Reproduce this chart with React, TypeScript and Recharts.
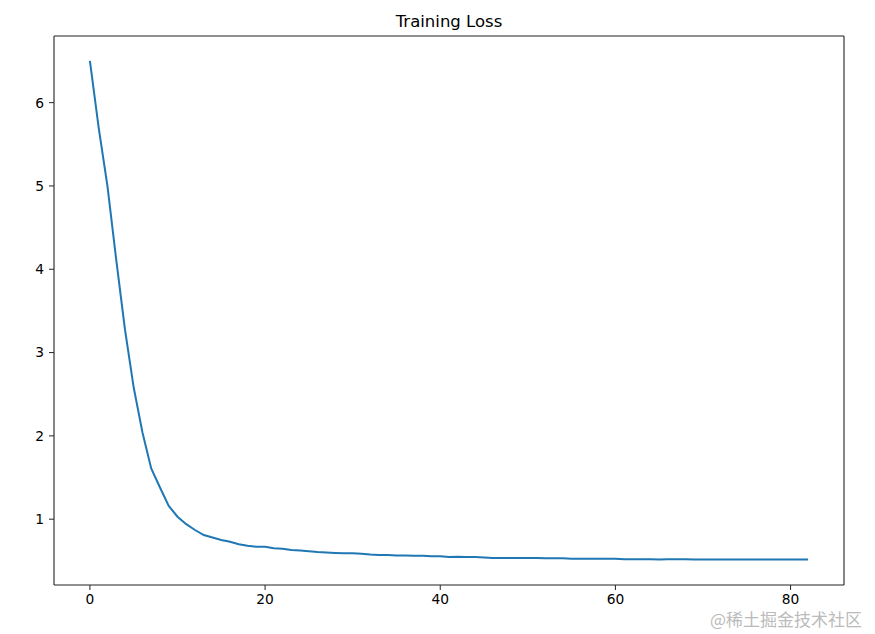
import React from "react";
import { LineChart, Line, XAxis, YAxis } from "recharts";

// loss per epoch
const lossValues = [
  6.5, 5.7, 5.0, 4.12, 3.28, 2.58, 2.04, 1.61, 1.38, 1.16, 1.03, 0.94, 0.87,
  0.81, 0.78, 0.75, 0.73, 0.7, 0.68, 0.67, 0.67, 0.65, 0.645, 0.63, 0.625,
  0.615, 0.605, 0.6, 0.595, 0.59, 0.59, 0.585, 0.575, 0.57, 0.57, 0.565, 0.565,
  0.56, 0.56, 0.555, 0.555, 0.545, 0.55, 0.545, 0.545, 0.54, 0.535, 0.535,
  0.535, 0.535, 0.535, 0.535, 0.53, 0.53, 0.53, 0.525, 0.525, 0.525, 0.525,
  0.525, 0.525, 0.52, 0.52, 0.52, 0.52, 0.517, 0.52, 0.52, 0.52, 0.517, 0.517,
  0.517, 0.517, 0.517, 0.517, 0.517, 0.517, 0.515, 0.517, 0.517, 0.517, 0.515,
  0.515,
];

const xTicks = [0, 20, 40, 60, 80];
const yTicks = [1, 2, 3, 4, 5, 6];
const title = "Training Loss";
const watermark = "@稀土掘金技术社区";

const data = lossValues.map((loss, epoch) => ({ epoch, loss }));

const FONT = "'DejaVu Sans', sans-serif";
const AXIS = "#222";
const tickStyle = { fill: "#000", fontSize: 13.8, fontFamily: FONT };

export default function App() {
  return (
    <div
      style={{
        position: "absolute",
        left: 0,
        top: 0,
        width: 875,
        height: 634,
        background: "#fff",
      }}
    >
      <div
        style={{
          position: "absolute",
          left: 54,
          width: 790,
          top: 12,
          lineHeight: "19px",
          textAlign: "center",
          fontFamily: FONT,
          fontSize: 16.5,
          color: "#000",
        }}
      >
        {title}
      </div>
      <LineChart
        width={875}
        height={634}
        data={data}
        margin={{ top: 35, right: 30, bottom: 0, left: 0 }}
      >
        <XAxis
          dataKey="epoch"
          type="number"
          domain={[-4.1, 86.1]}
          ticks={xTicks}
          height={49}
          tickSize={5}
          tickMargin={4}
          tick={tickStyle}
          axisLine={{ stroke: AXIS, strokeWidth: 1.1 }}
          tickLine={{ stroke: AXIS, strokeWidth: 1 }}
          allowDataOverflow
        />
        <XAxis
          xAxisId="top"
          orientation="top"
          type="number"
          domain={[0, 1]}
          height={1}
          tick={false}
          tickLine={false}
          axisLine={{ stroke: AXIS, strokeWidth: 1.1 }}
        />
        <YAxis
          type="number"
          domain={[0.21, 6.8]}
          ticks={yTicks}
          width={54}
          tickSize={5}
          tickMargin={5}
          tick={tickStyle}
          axisLine={{ stroke: AXIS, strokeWidth: 1.1 }}
          tickLine={{ stroke: AXIS, strokeWidth: 1 }}
          allowDataOverflow
        />
        <YAxis
          yAxisId="right"
          orientation="right"
          type="number"
          domain={[0, 1]}
          width={1}
          tick={false}
          tickLine={false}
          axisLine={{ stroke: AXIS, strokeWidth: 1.1 }}
        />
        <Line
          type="linear"
          dataKey="loss"
          stroke="#1f77b4"
          strokeWidth={2}
          dot={false}
          activeDot={false}
          isAnimationActive={false}
        />
      </LineChart>
      <div
        style={{
          position: "absolute",
          left: 710,
          top: 611,
          lineHeight: "16px",
          fontFamily: "'Noto Sans CJK SC', sans-serif",
          fontSize: 17,
          color: "#bbb",
          whiteSpace: "nowrap",
        }}
      >
        {watermark}
      </div>
    </div>
  );
}
